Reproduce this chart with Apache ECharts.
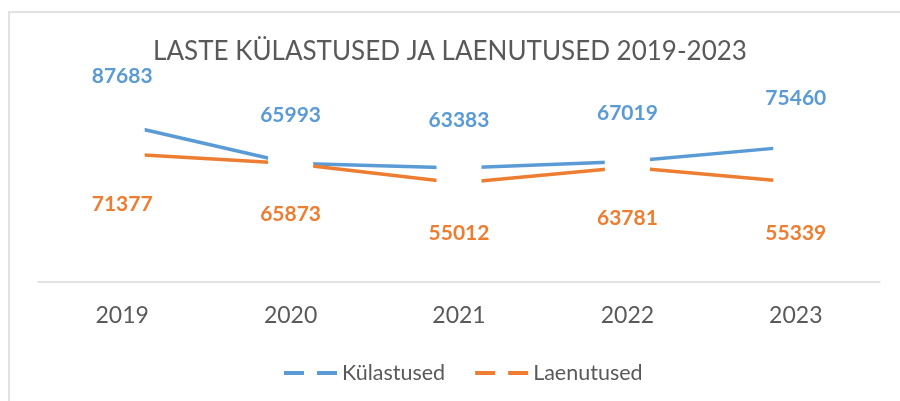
<!DOCTYPE html>
<html>
<head>
<meta charset="utf-8">
<script src="https://cdn.jsdelivr.net/npm/echarts@6/dist/echarts.min.js"></script>
<style>
  html, body { margin: 0; padding: 0; background: #fff; }
  #chart { width: 900px; height: 401px; }
</style>
</head>
<body>
<div id="chart"></div>
<script>
var years = ['2019', '2020', '2021', '2022', '2023'];
var kylastused = [87683, 65993, 63383, 67019, 75460];
var laenutused = [71377, 65873, 55012, 63781, 55339];

var blue = '#5B9BD5';
var orange = '#ED7D31';
var gray = '#595959';

// lines have a white gap around every point, like the source
var gapMarker = { symbol: 'rect', symbolSize: [45, 14] };

var myChart = echarts.init(document.getElementById('chart'));

var option = {
    animation: false,
    title: {
        text: 'LASTE KÜLASTUSED JA LAENUTUSED 2019-2023',
        left: 'center',
        top: 34,
        padding: [5, 5, 5, 23],
        textStyle: { fontFamily: 'Lato', fontWeight: 'normal', fontSize: 26, color: gray }
    },
    legend: {
        left: 279,
        top: 357,
        itemWidth: 53,
        itemHeight: 4,
        itemGap: 30,
        icon: 'path://M0,0H20V4H0Z M33,0H53V4H33Z',
        textStyle: { fontFamily: 'Lato', fontSize: 21.5, color: gray },
        data: [
            { name: 'Külastused', itemStyle: { color: blue } },
            { name: 'Laenutused', itemStyle: { color: orange } }
        ]
    },
    graphic: [{
        type: 'rect',
        shape: { x: 9, y: 12, width: 900, height: 400 },
        style: { fill: 'none', stroke: '#d9d9d9', lineWidth: 1.5 },
        silent: true
    }],
    grid: { left: 38, right: 20, top: 102.5, bottom: 119.7 },
    xAxis: {
        type: 'category',
        data: years,
        axisTick: { show: false },
        axisLine: { lineStyle: { color: '#d9d9d9', width: 1.5 } },
        axisLabel: { margin: 23, fontFamily: 'Lato', fontSize: 23, color: gray }
    },
    yAxis: {
        type: 'value',
        min: 0,
        max: 100000,
        show: false,
        splitLine: { show: false }
    },
    series: [{
        name: 'Külastused',
        type: 'line',
        data: kylastused,
        symbol: gapMarker.symbol,
        symbolSize: gapMarker.symbolSize,
        lineStyle: { color: blue, width: 3.5 },
        itemStyle: { color: '#fff', borderWidth: 0 },
        label: {
            show: true, position: 'top', distance: 30.5,
            fontFamily: 'Lato', fontWeight: 'bold', fontSize: 21, color: blue
        }
    }, {
        name: 'Laenutused',
        type: 'line',
        data: laenutused,
        symbol: gapMarker.symbol,
        symbolSize: gapMarker.symbolSize,
        lineStyle: { color: orange, width: 3.5 },
        itemStyle: { color: '#fff', borderWidth: 0 },
        label: {
            show: true, position: 'bottom', distance: 33,
            fontFamily: 'Lato', fontWeight: 'bold', fontSize: 21, color: orange
        }
    }]
};

myChart.setOption(option);
</script>
</body>
</html>
